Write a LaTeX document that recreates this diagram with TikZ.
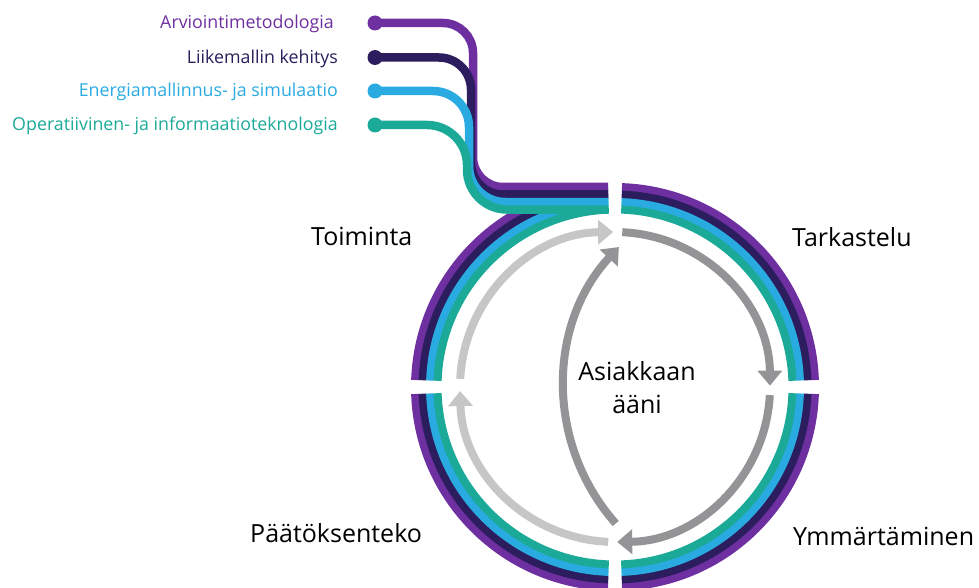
\documentclass[tikz,border=0pt]{standalone}
\usepackage{fontspec}
\setmainfont{Open Sans}
\usetikzlibrary{arrows.meta}
\definecolor{arvio}{HTML}{6E2FA0}
\definecolor{liike}{HTML}{2B1D5E}
\definecolor{energia}{HTML}{29ABE2}
\definecolor{operat}{HTML}{1BAA97}
\definecolor{lightarr}{HTML}{C6C6C6}
\definecolor{darkarr}{HTML}{949497}
\tikzset{
  band/.style={line width=8pt},
  feed/.style={line width=8.5pt},
  dot/.style={circle,inner sep=0pt,minimum size=15pt},
  feedlabel/.style={inner sep=0pt,anchor=base east,font=\fontsize{17.8}{21}\selectfont},
  phase/.style={inner sep=0pt,anchor=base west,font=\fontsize{25}{30}\selectfont},
  cyclearrow/.style={line width=8pt,-{Triangle[width=24pt,length=15pt]}}
}
\begin{document}
\begin{tikzpicture}[x=1pt,y=-1pt]
                \useasboundingbox (0,0) rectangle (979,588);
                \coordinate (C) at (615,387);
                \coordinate (V) at (770,387);
                \foreach \col/\r in {arvio/200,liike/192.5,energia/185,operat/177.5}
                  \foreach \a in {2,92,182,272}
                    \draw [band,\col] ([shift={(\a:\r)}]C) arc [start angle=\a, end angle=\a+86, radius=\r];
                \node [dot,fill=arvio] (d1) at (375,23) {};
                \node [dot,fill=liike] (d2) at (375,57.5) {};
                \node [dot,fill=energia] (d3) at (375,91) {};
                \node [dot,fill=operat] (d4) at (375,125) {};
                \draw [feed,arvio,rounded corners=30] (d1.center) -- (473,23) -- (473,187) -- (608,187);
                \draw [feed,liike,rounded corners=32] (d2.center) -- (471,57.5) -- (471,194.5) -- (608,194.5);
                \draw [feed,energia,rounded corners=36] (d3.center) -- (469,91) -- (469,202) -- (608,202);
                \draw [feed,operat,rounded corners=40] (d4.center) -- (467,125) -- (467,209.5) -- (608,209.5);
                \node [feedlabel,text=arvio] (l1) at (334,29) {Arviointimetodologia};
                \node [feedlabel,text=liike] (l2) at (338,63.5) {Liikemallin kehitys};
                \node [feedlabel,text=energia] (l3) at (338,97) {Energiamallinnus- ja simulaatio};
                \node [feedlabel,text=operat] (l4) at (338,131) {Operatiivinen- ja informaatioteknologia};
                \draw [cyclearrow,lightarr] ([shift={(183:155)}]C) arc [start angle=183, end angle=269.3, radius=155];
                \draw [cyclearrow,lightarr] ([shift={(92.5:155)}]C) arc [start angle=92.5, end angle=178.5, radius=155];
                \draw [cyclearrow,darkarr] ([shift={(272.7:155)}]C) arc [start angle=272.7, end angle=359.5, radius=155];
                \draw [cyclearrow,darkarr] ([shift={(3:155)}]C) arc [start angle=3, end angle=89.2, radius=155];
                \draw [cyclearrow,darkarr] ([shift={(138.5:206)}]V) arc [start angle=138.5, end angle=222.8, radius=206];
                \node [phase] (toiminta) at (311,245) {Toiminta};
                \node [phase] (tarkastelu) at (792,246) {Tarkastelu};
                \node [phase] (paatos) at (250,542) {Päätöksenteko};
                \node [phase] (ymmarrys) at (793,545) {Ymmärtäminen};
                \node [phase,anchor=base] (asiakas) at (637,380) {Asiakkaan};
                \node [phase,anchor=base] (aani) at (637,413) {ääni};
            \end{tikzpicture}
\end{document}
